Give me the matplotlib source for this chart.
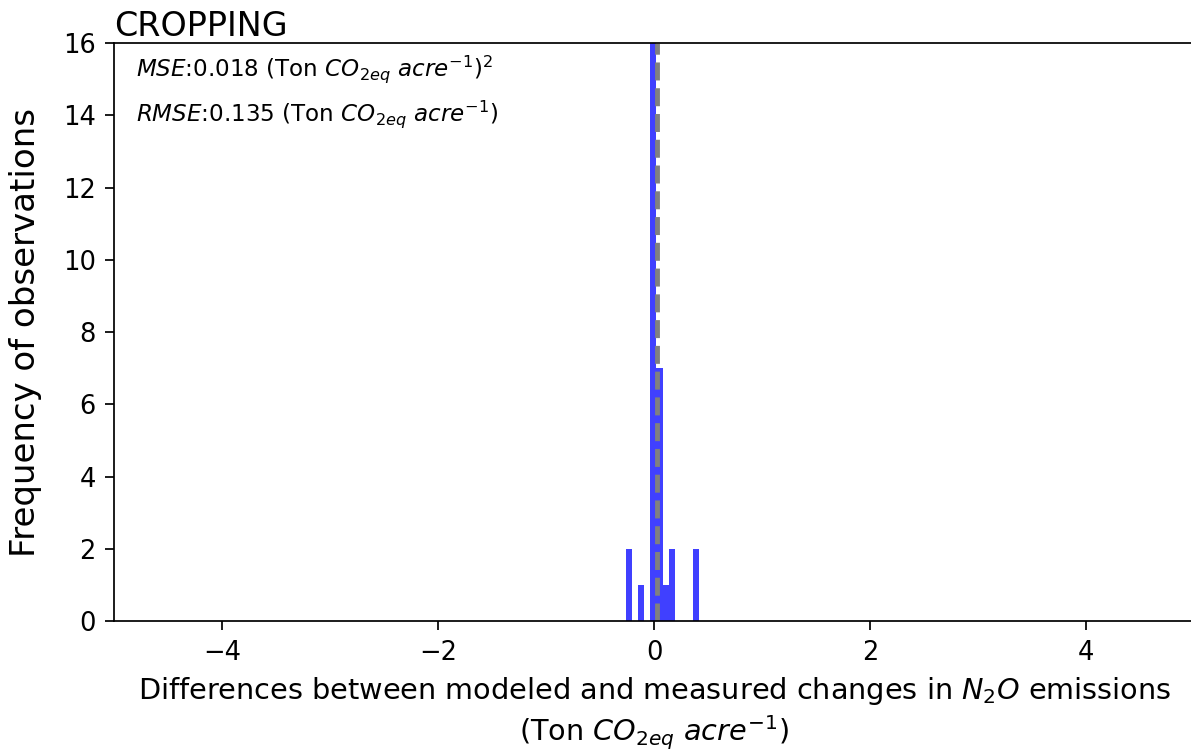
import matplotlib
matplotlib.use("Agg")
import matplotlib.pyplot as plt
import numpy as np

# Histogram data
bin_lo, bin_hi, n_bins = -0.26, 0.414, 12
counts = [2, 0, 1, 0, 16, 7, 1, 2, 0, 0, 0, 2]
mean_line = 0.028
title = "CROPPING"
yticks = [0, 2, 4, 6, 8, 10, 12, 14, 16]
xticks = [-4, -2, 0, 2, 4]

fig = plt.figure(figsize=(11.91, 7.52), dpi=100)
ax = fig.add_axes([0.0961, 0.1742, 0.9064, 0.7686])

edges = np.linspace(bin_lo, bin_hi, n_bins + 1)
centers = (edges[:-1] + edges[1:]) / 2
ax.hist(centers, bins=edges, weights=counts, color='blue', alpha=0.75)
ax.axvline(mean_line, color='gray', linestyle='--', linewidth=3.5)

ax.set_xlim(-5, 5)
ax.set_ylim(0, 16)
ax.set_xticks(xticks)
ax.set_yticks(yticks)
ax.tick_params(labelsize=18.5, length=6.5, width=1.25, pad=7)
for s in ax.spines.values():
    s.set_linewidth(1.25)
ax.spines['right'].set_visible(False)

ax.set_title(title, loc='left', fontsize=24, pad=1)
ax.set_ylabel('Frequency of observations', fontsize=24.5)
ax.yaxis.set_label_coords(-0.067, 0.5)
ax.set_xlabel('Differences between modeled and measured changes in $N_2O$ emissions\n(Ton $CO_{2eq}$ $acre^{-1}$)',
              fontsize=20.7, labelpad=7)

ax.text(0.02, 0.955, r'$MSE$:0.018 (Ton $CO_{2eq}$ $acre^{-1}$)$^2$', transform=ax.transAxes, fontsize=16.6, va='center')
ax.text(0.02, 0.877, r'$RMSE$:0.135 (Ton $CO_{2eq}$ $acre^{-1}$)', transform=ax.transAxes, fontsize=16.6, va='center')

fig.savefig('out.png', dpi=100)
